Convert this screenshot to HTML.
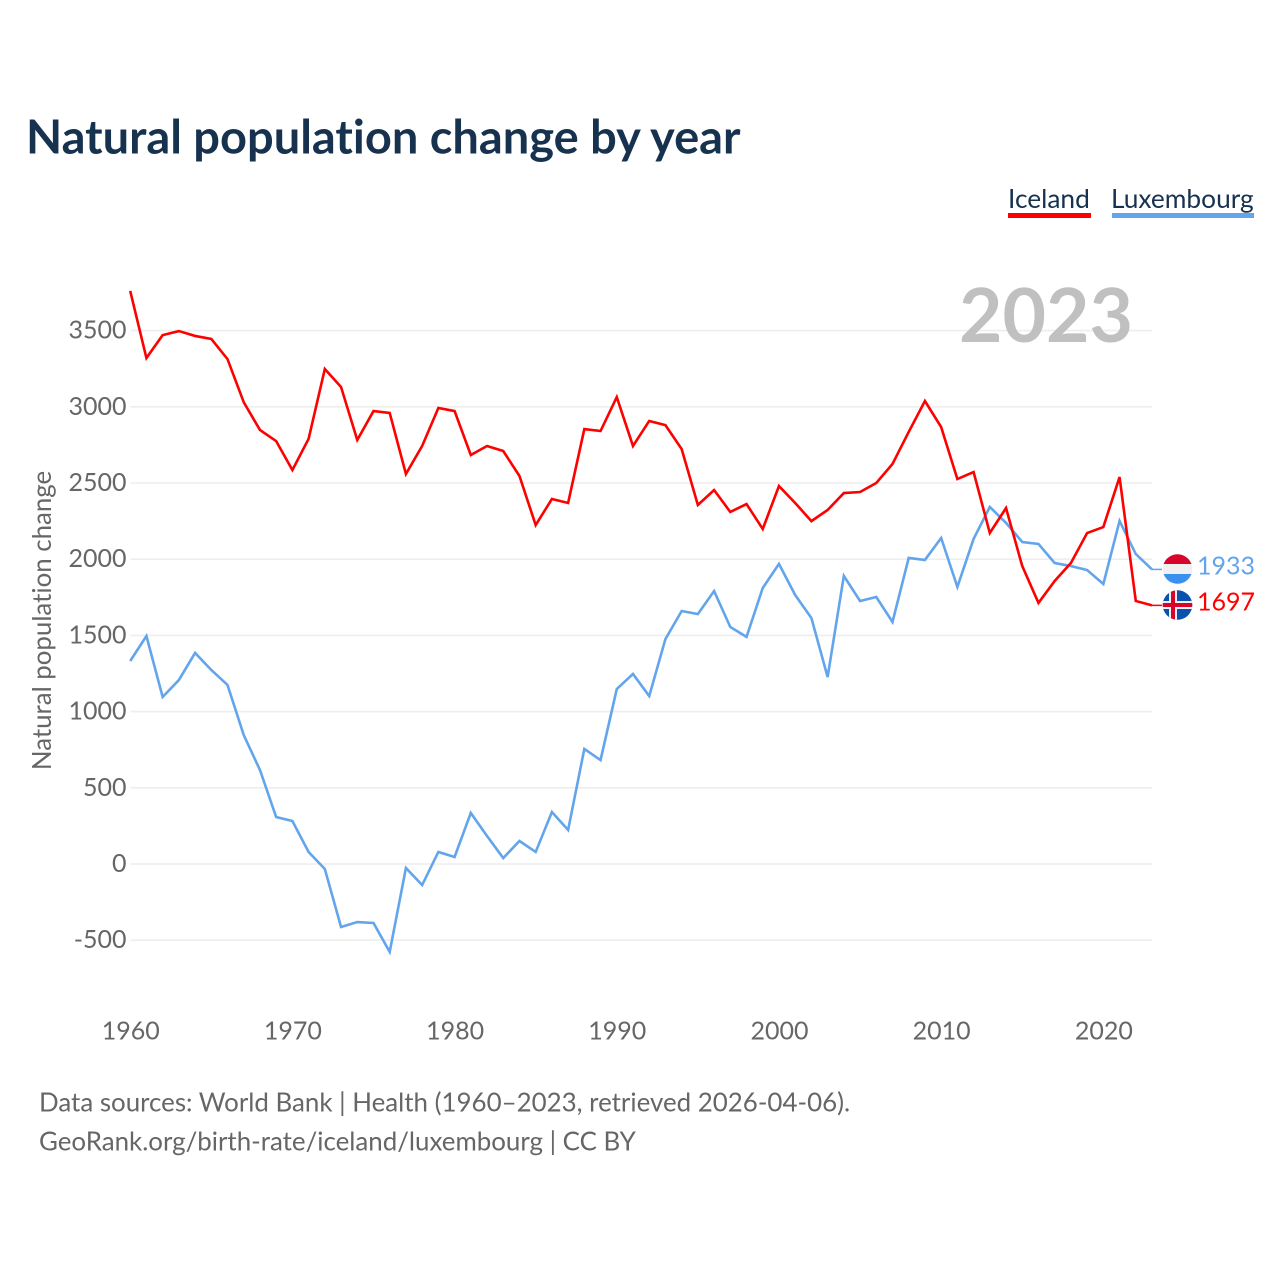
<!DOCTYPE html>
<html>
<head>
<meta charset="utf-8">
<title>Natural population change by year</title>
<style>
html,body{margin:0;padding:0;background:#fff;}
svg{display:block;}
text{font-family:"Lato","Carlito","Liberation Sans",sans-serif;font-variant-ligatures:none;font-feature-settings:"liga" 0,"clig" 0;}
</style>
</head>
<body>
<svg id="chart" xmlns="http://www.w3.org/2000/svg" width="1280" height="1280" viewBox="0 0 1280 1280">
<rect x="0" y="0" width="1280" height="1280" fill="#fff"/>
<defs>
<clipPath id="clip-lu"><circle cx="1177.5" cy="569" r="14.8"/></clipPath>
<clipPath id="clip-is"><circle cx="1177.5" cy="605" r="14.8"/></clipPath>
</defs>
<text x="26" y="153.5" font-size="47" font-weight="700" fill="#17324f">Natural population change by year</text>
<g id="grid"></g>
<g id="yticks"></g>
<g id="xticks"></g>
<text transform="translate(51,620.5) rotate(-90)" text-anchor="middle" font-size="25.85" fill="#666">Natural population change</text>
<text x="959" y="342" font-size="75" font-weight="700" fill="#c0c0c0">2023</text>
<g id="series"></g>
<g>
<text x="1008" y="208" font-size="26.3" fill="#17324f">Iceland</text>
<rect x="1008" y="213" width="83" height="5" fill="#ff0000"/>
</g>
<g>
<text x="1111" y="208" font-size="26.3" fill="#17324f">Luxembourg</text>
<rect x="1112" y="213" width="142" height="5" fill="#62a5ec"/>
</g>
<g clip-path="url(#clip-lu)">
<rect x="1162" y="554" width="31" height="10" fill="#d9042b"/>
<rect x="1162" y="564" width="31" height="10" fill="#f0f0f0"/>
<rect x="1162" y="574" width="31" height="11" fill="#3a90ef"/>
</g>
<g clip-path="url(#clip-is)">
<rect x="1162" y="590" width="31" height="31" fill="#0a52b0"/>
<rect x="1169" y="590" width="8" height="31" fill="#f0f0f0"/>
<rect x="1162" y="601" width="31" height="8" fill="#f0f0f0"/>
<rect x="1171" y="590" width="4" height="31" fill="#d9042b"/>
<rect x="1162" y="603" width="31" height="4" fill="#d9042b"/>
</g>
<text id="label-lu" x="1197" y="574.5" font-size="25" fill="#62a5ec"></text>
<text id="label-is" x="1197" y="610.5" font-size="25" fill="#ff0000"></text>
<text x="39" y="1111.5" font-size="25.9" fill="#666">Data sources: World Bank | Health (1960–2023, retrieved 2026-04-06).</text>
<text x="39" y="1150.5" font-size="25.9" fill="#666">GeoRank.org/birth-rate/iceland/luxembourg | CC BY</text>
</svg>
<script>
const startYear = 1960;
const yTickValues = [-500, 0, 500, 1000, 1500, 2000, 2500, 3000, 3500];
const xTickValues = [1960, 1970, 1980, 1990, 2000, 2010, 2020];
const icelandValues = [3760,3320,3470,3497,3465,3445,3313,3030,2848,2775,2585,2790,3248,3130,2782,2972,2960,2559,2743,2992,2972,2684,2743,2710,2546,2224,2395,2369,2854,2841,3064,2743,2907,2880,2723,2356,2454,2310,2362,2198,2480,2369,2250,2323,2434,2441,2500,2625,2835,3038,2867,2526,2572,2172,2336,1955,1713,1857,1975,2172,2211,2539,1726,1697];
const luxembourgValues = [1332,1496,1096,1207,1385,1273,1175,846,617,308,282,79,-33,-413,-381,-387,-577,-26,-138,79,46,335,184,39,151,79,341,223,755,682,1148,1247,1102,1476,1660,1640,1791,1555,1490,1811,1969,1765,1614,1227,1890,1726,1752,1588,2008,1995,2139,1818,2133,2343,2238,2113,2100,1975,1955,1929,1837,2251,2034,1933];

const NS = 'http://www.w3.org/2000/svg';
function xScale(year) { return 130.2 + (year - 1960) * (1152 - 130.2) / 63; }
function yScale(value) { return 864 - value * 0.1524; }
function make(tag, attrs, parent) {
  const el = document.createElementNS(NS, tag);
  for (const k in attrs) el.setAttribute(k, attrs[k]);
  parent.appendChild(el);
  return el;
}
const grid = document.getElementById('grid');
const yticks = document.getElementById('yticks');
const xticks = document.getElementById('xticks');
const series = document.getElementById('series');

yTickValues.forEach(function (v) {
  const line = make('line', {x1: 130.5, x2: 1152, y1: yScale(v), y2: yScale(v), stroke: '#eeeeee', 'stroke-width': 1.6}, grid);
  
  
  const t = make('text', {x: 126.5, y: yScale(v) + 8, 'text-anchor': 'end', 'font-size': 25, fill: '#666'}, yticks);
  
  
  t.textContent = String(v);
});
xTickValues.forEach(function (yr) {
  const t = make('text', {x: xScale(yr) + 0.5, y: 1039.5, 'text-anchor': 'middle', 'font-size': 25, fill: '#666'}, xticks);
  
  
  t.textContent = String(yr);
});
function drawSeries(values, color, name) {
  const pts = values.map(function (v, i) { return xScale(startYear + i).toFixed(2) + ',' + yScale(v).toFixed(2); }).join(' ');
  const line = make('polyline', {points: pts, fill: 'none', stroke: color, 'stroke-width': 2.6, 'stroke-linejoin': 'miter'}, series);
  
  
  const lastY = yScale(values[values.length - 1]);
  const conn = make('line', {x1: 1152, x2: 1162, y1: lastY, y2: lastY, stroke: color, 'stroke-width': 1.5}, series);
  
  
}
drawSeries(luxembourgValues, '#62a5ec', 'luxembourg-line');
drawSeries(icelandValues, '#ff0000', 'iceland-line');
document.getElementById('label-lu').textContent = String(luxembourgValues[luxembourgValues.length - 1]);
document.getElementById('label-is').textContent = String(icelandValues[icelandValues.length - 1]);
</script>
</body>
</html>
